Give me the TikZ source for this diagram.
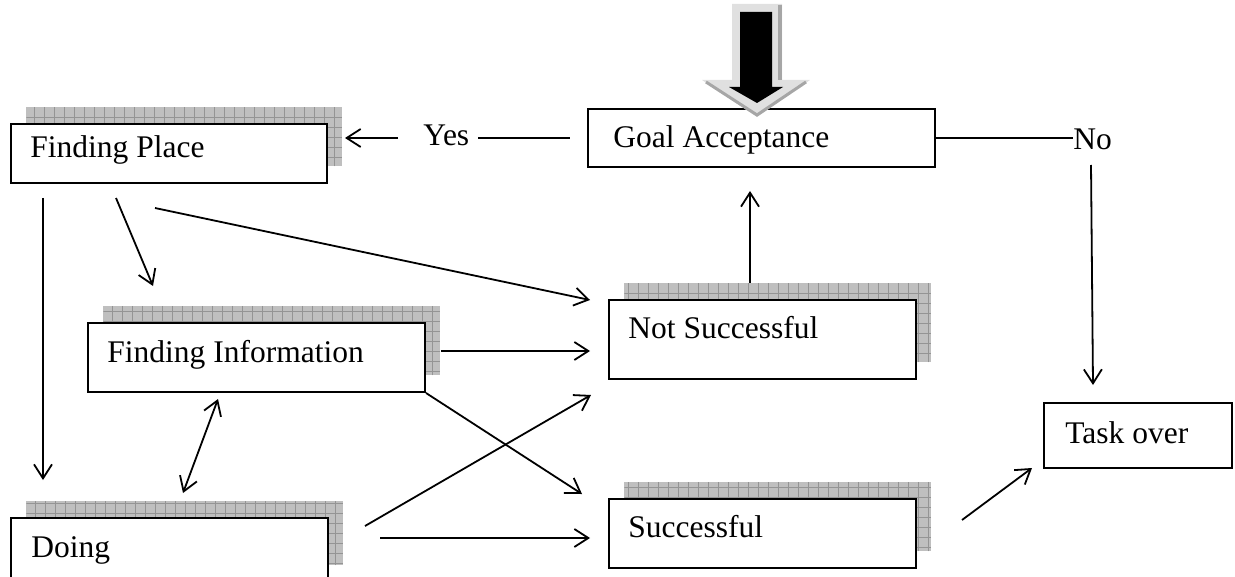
\documentclass[tikz,border=0pt]{standalone}
\usepackage{fontspec}
\setmainfont{Liberation Serif}
\usetikzlibrary{arrows.meta}

\begin{document}
\begin{tikzpicture}[x=0.5pt, y=-0.5pt,
        box/.style={draw, line width=1pt, fill=white, anchor=north west, inner sep=0pt},
        shade/.style={fill=black!25, anchor=north west, inner sep=0pt,
            path picture={\draw[black!42, line width=0.3pt] (path picture bounding box.south west) grid[step=5pt] (path picture bounding box.north east);}},
        txt/.style={anchor=base west, inner sep=0pt, font=\fontsize{15.75}{19}\selectfont},
        arrow/.style={-{Straight Barb[length=7pt,width=9pt]}, line width=0.9pt},
        dblarrow/.style={{Straight Barb[length=7pt,width=9pt]}-{Straight Barb[length=7pt,width=9pt]}, line width=0.9pt},
        link/.style={line width=0.9pt}
    ]
        \useasboundingbox (0,0) rectangle (1235,577);
        \clip (0,0) rectangle (1235,577);

        % Boxes with hatched shadow
        \foreach \n/\x/\y/\w/\h in {place/10/123/316/59, info/87/322/337/69, doing/10/517/317/64,
                                     notsucc/608/299/307/79, succ/608/498/307/69}
        {
            \node[shade, minimum width=\w*0.5pt, minimum height=\h*0.5pt] (\n s) at (\x+16,\y-16) {};
            \node[box, minimum width=\w*0.5pt, minimum height=\h*0.5pt] (\n) at (\x,\y) {};
        }

        % Plain boxes
        \foreach \n/\x/\y/\w/\h in {goal/587/108/347/58, task/1043/402/188/65}
            \node[box, minimum width=\w*0.5pt, minimum height=\h*0.5pt] (\n) at (\x,\y) {};

        % Texts
        \node[txt] (placeT) at (30,158) {Finding Place};
        \node[txt] (infoT) at (107,362) {Finding Information};
        \node[txt] (doingT) at (31,557) {Doing};
        \node[txt] (goalT) at (613,148) {Goal Acceptance};
        \node[txt] (notsuccT) at (628,338) {Not Successful};
        \node[txt] (succT) at (628,537) {Successful};
        \node[txt] (taskT) at (1065,443) {Task over};
        \node[txt] (yes) at (423,146) {Yes};
        \node[txt] (no) at (1073,150) {No};

        % Big input arrow
        \fill[black!12] (732,4) -- (782,4) -- (782,80) -- (810,80) -- (757,117) -- (702,80) -- (732,80) -- cycle;
        \draw[black!35, line width=2pt] (780,5) -- (780,80);
        \draw[black!35, line width=1.5pt] (706,82) -- (757,115) -- (806,82);
        \fill[black] (740,12) -- (772,12) -- (772,87) -- (783,87) -- (757,103) -- (729,87) -- (740,87) -- cycle;

        % Free ends
        \coordinate (yesA) at (398,138);
        \coordinate (yesB) at (345,138);
        \coordinate (yesC) at (478,138);
        \coordinate (yesD) at (570,138);
        \coordinate (noA) at (1091,165);
        \coordinate (noB) at (1093,385);
        \coordinate (placeA) at (43,198);
        \coordinate (placeB) at (43,480);
        \coordinate (placeC) at (116,198);
        \coordinate (placeD) at (153,286);
        \coordinate (placeE) at (155,208);
        \coordinate (placeF) at (590,300);
        \coordinate (infoA) at (441,351);
        \coordinate (infoB) at (590,351);
        \coordinate (infoC) at (582,494);
        \coordinate (infoD) at (218,399);
        \coordinate (doingA) at (183,493);
        \coordinate (doingB) at (365,526);
        \coordinate (doingC) at (591,395);
        \coordinate (doingD) at (380,538);
        \coordinate (doingE) at (590,538);
        \coordinate (notsuccA) at (750,283);
        \coordinate (notsuccB) at (750,191);
        \coordinate (succA) at (962,520);
        \coordinate (succB) at (1032,468);

        % Connectors
        \draw[arrow] (yesA) -- (yesB);
        \draw[link] (yesC) -- (yesD);
        \draw[link] (goal.east) -- (goal.east -| no.west);
        \draw[arrow] (noA) -- (noB);
        \draw[arrow] (placeA) -- (placeB);
        \draw[arrow] (placeC) -- (placeD);
        \draw[arrow] (placeE) -- (placeF);
        \draw[arrow] (infoA) -- (infoB);
        \draw[arrow] (info.south east) -- (infoC);
        \draw[dblarrow] (infoD) -- (doingA);
        \draw[arrow] (doingB) -- (doingC);
        \draw[arrow] (doingD) -- (doingE);
        \draw[arrow] (notsuccA) -- (notsuccB);
        \draw[arrow] (succA) -- (succB);

    \end{tikzpicture}
\end{document}
